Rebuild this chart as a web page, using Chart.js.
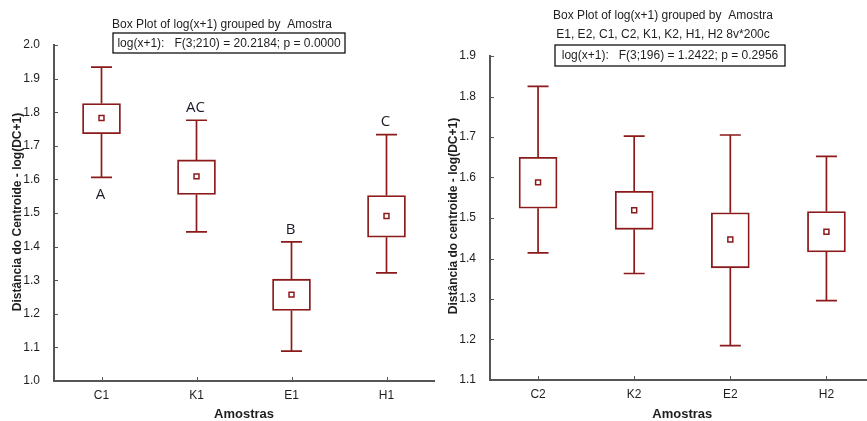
<!DOCTYPE html>
<html>
<head>
<meta charset="utf-8">
<script src="https://cdn.jsdelivr.net/npm/chart.js@4/dist/chart.umd.min.js"></script>
<style>
  html, body { margin: 0; padding: 0; background: #fff; overflow: hidden; width: 867px; height: 421px; }
  .panel { position: absolute; top: 0; }
  #leftWrap { left: 0; width: 440px; height: 421px; }
  #rightWrap { left: 440px; width: 440px; height: 421px; }
</style>
</head>
<body>
<div id="leftWrap" class="panel"><canvas id="leftChart" width="440" height="421"></canvas></div>
<div id="rightWrap" class="panel"><canvas id="rightChart" width="440" height="421"></canvas></div>
<script>
// Period 1 samples
const categoriesA = ['C1', 'K1', 'E1', 'H1'];
const whiskerLowA = [1.606, 1.444, 1.089, 1.322];
const q1A = [1.736, 1.555, 1.210, 1.428];
const meanA = [1.783, 1.609, 1.257, 1.491];
const q3A = [1.826, 1.658, 1.303, 1.552];
const whiskerHighA = [1.934, 1.776, 1.414, 1.733];
const groupLettersA = ['A', 'AC', 'B', 'C'];
const letterSideA = ['below', 'above', 'above', 'above'];
const yTicksA = { min: 1.0, max: 2.0, step: 0.1 };

// Period 2 samples
const categoriesB = ['C2', 'K2', 'E2', 'H2'];
const whiskerLowB = [1.414, 1.363, 1.185, 1.296];
const q1B = [1.524, 1.472, 1.377, 1.416];
const meanB = [1.588, 1.519, 1.447, 1.466];
const q3B = [1.650, 1.566, 1.513, 1.516];
const whiskerHighB = [1.825, 1.702, 1.705, 1.652];
const yTicksB = { min: 1.1, max: 1.9, step: 0.1 };

const MAROON = '#8B1A1A';
const AXIS = '#555555';
const TEXT = '#1e1e1e';

Chart.defaults.font.family = "'Liberation Sans', Arial, sans-serif";
Chart.defaults.font.size = 12;
Chart.defaults.color = TEXT;

// Whiskers with caps, drawn beneath the boxes
const whiskerPlugin = {
  id: 'whiskers',
  beforeDatasetsDraw(chart, args, opts) {
    const { ctx, scales: { x, y } } = chart;
    ctx.save();
    ctx.strokeStyle = MAROON;
    ctx.lineWidth = 1.7;
    opts.low.forEach((lo, i) => {
      const cx = x.getPixelForValue(i);
      const yLo = y.getPixelForValue(lo);
      const yHi = y.getPixelForValue(opts.high[i]);
      const yQ1 = y.getPixelForValue(opts.q1[i]);
      const yQ3 = y.getPixelForValue(opts.q3[i]);
      const half = 10.5;
      ctx.beginPath();
      ctx.moveTo(cx, yQ1); ctx.lineTo(cx, yLo);
      ctx.moveTo(cx, yQ3); ctx.lineTo(cx, yHi);
      ctx.moveTo(cx - half, yLo); ctx.lineTo(cx + half, yLo);
      ctx.moveTo(cx - half, yHi); ctx.lineTo(cx + half, yHi);
      ctx.stroke();
    });
    ctx.restore();
  }
};

// Inward tick marks, titles, axis titles and group letters
const decorPlugin = {
  id: 'decor',
  afterDraw(chart, args, opts) {
    const { ctx, chartArea: a, scales: { x, y } } = chart;
    ctx.save();
    ctx.strokeStyle = AXIS;
    ctx.lineWidth = 1;
    ctx.beginPath();
    y.ticks.forEach((t, i) => {
      const py = Math.round(y.getPixelForTick(i)) + 0.5;
      ctx.moveTo(a.left, py); ctx.lineTo(a.left + 4, py);
    });
    x.ticks.forEach((t, i) => {
      const px = Math.round(x.getPixelForTick(i)) + 0.5;
      ctx.moveTo(px, a.bottom); ctx.lineTo(px, a.bottom - 4);
    });
    ctx.stroke();

    // titles
    ctx.fillStyle = TEXT;
    ctx.textAlign = 'center';
    ctx.textBaseline = 'middle';
    ctx.font = "12px 'Liberation Sans', Arial, sans-serif";
    opts.titleLines.forEach(l => ctx.fillText(l.text, opts.titleX, l.y));
    const b = opts.statBox;
    ctx.strokeStyle = '#111';
    ctx.lineWidth = 1.3;
    ctx.strokeRect(b.x, b.y, b.w, b.h);
    ctx.fillText(b.text, b.x + b.w / 2, b.y + b.h / 2 + 0.5);

    // axis titles
    ctx.font = "bold 13px 'Liberation Sans', Arial, sans-serif";
    ctx.fillText(opts.xTitle, (a.left + a.right) / 2, 414);
    ctx.save();
    ctx.translate(opts.yTitleX, opts.yTitleY);
    ctx.rotate(-Math.PI / 2);
    ctx.font = "bold 12px 'Liberation Sans', Arial, sans-serif";
    ctx.fillText(opts.yTitle, 0, 0);
    ctx.restore();

    // group letters
    if (opts.letters) {
      ctx.font = "15px 'Open Sans', 'DejaVu Sans', sans-serif";
      ctx.fillStyle = '#1a1a2a';
      opts.letters.forEach((l, i) => {
        const cx = x.getPixelForValue(i) - 1;
        const py = opts.letterSide[i] === 'below'
          ? y.getPixelForValue(opts.low[i]) + 17
          : y.getPixelForValue(opts.high[i]) - 12.5;
        ctx.fillText(l, cx, py);
      });
    }
    ctx.restore();
  }
};

function buildChart(canvasId, cfg) {
  return new Chart(document.getElementById(canvasId), {
    type: 'bar',
    data: {
      labels: cfg.categories,
      datasets: [
        {
          type: 'line',
          data: cfg.mean,
          showLine: false,
          pointStyle: 'rect',
          pointRadius: 3.5,
          pointBackgroundColor: '#ffffff',
          pointBorderColor: MAROON,
          pointBorderWidth: 1.5,
          order: 0
        },
        {
          type: 'bar',
          data: cfg.q1.map((v, i) => [v, cfg.q3[i]]),
          backgroundColor: '#ffffff',
          borderColor: MAROON,
          borderWidth: 1.8,
          borderSkipped: false,
          barThickness: 38,
          order: 1
        }
      ]
    },
    options: {
      responsive: false,
      animation: false,
      devicePixelRatio: 1,
      layout: { padding: { top: cfg.padTop, right: cfg.padRight, left: 0, bottom: 0 } },
      plugins: {
        legend: { display: false },
        tooltip: { enabled: false },
        whiskers: { low: cfg.low, high: cfg.high, q1: cfg.q1, q3: cfg.q3 },
        decor: {
          titleLines: cfg.titleLines,
          titleX: cfg.titleX,
          statBox: cfg.statBox,
          xTitle: 'Amostras',
          yTitle: cfg.yTitle,
          yTitleX: cfg.yTitleX,
          yTitleY: cfg.yTitleY,
          letters: cfg.letters,
          letterSide: cfg.letterSide,
          low: cfg.low,
          high: cfg.high
        }
      },
      scales: {
        x: {
          offset: true,
          grid: { display: false },
          border: { display: true, color: AXIS, width: 2 },
          ticks: { padding: -1, color: TEXT, font: { size: 12 } },
          afterFit(s) { s.height = cfg.xAxisHeight; }
        },
        y: {
          min: cfg.yTicks.min,
          max: cfg.yTicks.max,
          grid: { display: false },
          border: { display: true, color: AXIS, width: 2 },
          ticks: {
            stepSize: cfg.yTicks.step,
            padding: 6,
            color: TEXT,
            font: { size: 12 },
            callback: v => Number(v).toFixed(1)
          },
          afterFit(s) { s.width = cfg.yAxisWidth; }
        }
      }
    },
    plugins: [whiskerPlugin, decorPlugin]
  });
}

buildChart('leftChart', {
  categories: categoriesA, low: whiskerLowA, q1: q1A, mean: meanA, q3: q3A, high: whiskerHighA,
  letters: groupLettersA, letterSide: letterSideA, yTicks: yTicksA,
  padTop: 45, padRight: 6, yAxisWidth: 54, xAxisHeight: 40,
  titleX: 222,
  titleLines: [{ text: 'Box Plot of log(x+1) grouped by  Amostra', y: 25 }],
  statBox: { x: 113, y: 33, w: 232, h: 20, text: 'log(x+1):   F(3;210) = 20.2184; p = 0.0000' },
  yTitle: 'Distância do Centroide - log(DC+1)', yTitleX: 18, yTitleY: 212
});

buildChart('rightChart', {
  categories: categoriesB, low: whiskerLowB, q1: q1B, mean: meanB, q3: q3B, high: whiskerHighB,
  letters: null, letterSide: null, yTicks: yTicksB,
  padTop: 56, padRight: 2, yAxisWidth: 50, xAxisHeight: 41,
  titleX: 223,
  titleLines: [
    { text: 'Box Plot of log(x+1) grouped by  Amostra', y: 16 },
    { text: 'E1, E2, C1, C2, K1, K2, H1, H2 8v*200c', y: 35 }
  ],
  statBox: { x: 115, y: 45, w: 230, h: 21, text: 'log(x+1):   F(3;196) = 1.2422; p = 0.2956' },
  yTitle: 'Distância do centroide - log(DC+1)', yTitleX: 14, yTitleY: 216
});
</script>
</body>
</html>
